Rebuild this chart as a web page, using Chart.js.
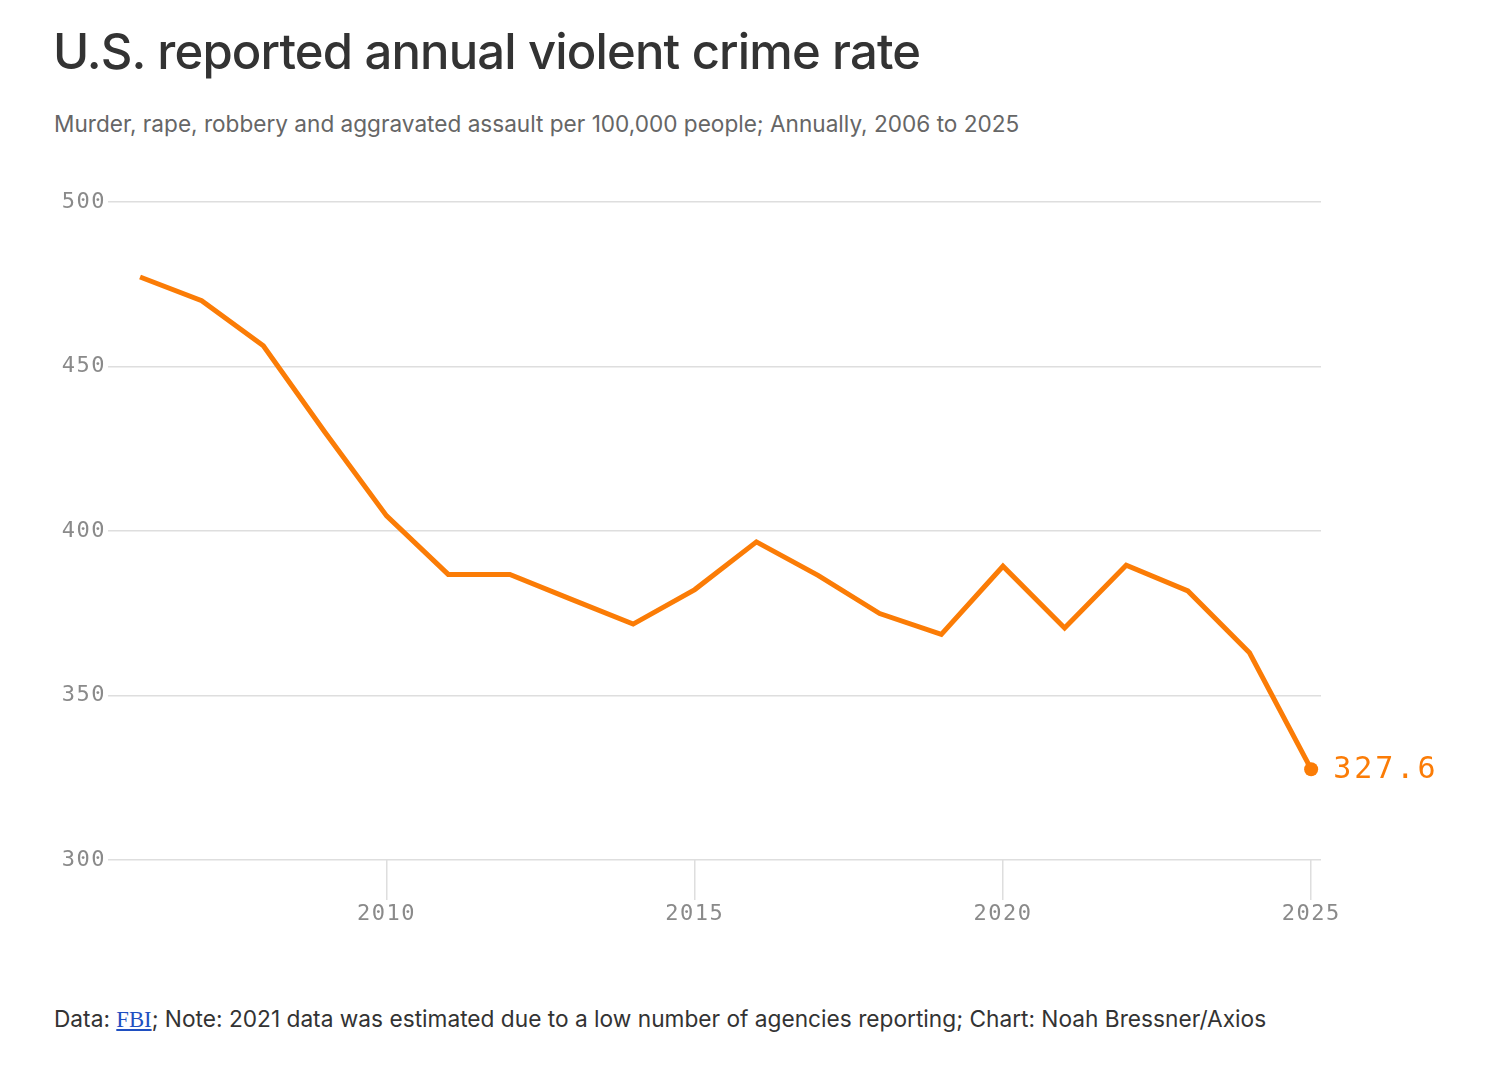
<!DOCTYPE html>
<html>
<head>
<meta charset="utf-8">
<script src="https://cdn.jsdelivr.net/npm/chart.js@4.4.1/dist/chart.umd.min.js"></script>
<style>
    html, body { margin: 0; padding: 0; background: #fff; }
    body { width: 1504px; height: 1066px; position: relative; overflow: hidden; font-family: Inter, "Noto Sans", sans-serif; }
    #title { position: absolute; left: 53px; top: 22px; font-size: 49px; font-weight: 500; color: #333; letter-spacing: -0.85px; white-space: nowrap; }
    #subtitle { position: absolute; left: 54px; top: 110px; font-size: 22.6px; color: #666; letter-spacing: 0; white-space: nowrap; }
    #chartBox { position: absolute; left: 0; top: 180px; width: 1504px; height: 780px; }
    #footer { position: absolute; left: 54px; top: 1005px; font-size: 22.7px; color: #333; letter-spacing: 0; white-space: nowrap; }
    #footer a { font-family: "Liberation Serif", "DejaVu Serif", serif; color: #1f4fc1; }
</style>
</head>
<body>
<div id="title">U.S. reported annual violent crime rate</div>
<div id="subtitle">Murder, rape, robbery and aggravated assault per 100,000 people; Annually, 2006 to 2025</div>
<div id="chartBox"><canvas id="crimeChart"></canvas></div>
<div id="footer">Data: <a href="#">FBI</a>; Note: 2021 data was estimated due to a low number of agencies reporting; Chart: Noah Bressner/Axios</div>

<script>
// datos
const years = [2006, 2007, 2008, 2009, 2010, 2011, 2012, 2013, 2014, 2015,
               2016, 2017, 2018, 2019, 2020, 2021, 2022, 2023, 2024, 2025];
const rates = [477.2, 470.0, 456.3, 430.0, 404.6, 386.8, 386.8, 379.2, 371.7, 382.2,
               396.7, 386.5, 374.9, 368.6, 389.3, 370.5, 389.6, 381.8, 363.0, 327.6];
const yTicks = [300, 350, 400, 450, 500];
const xTicks = [2010, 2015, 2020, 2025];

const orange = '#fb7c06';
const gridColor = '#dedede';
const tickFont = { family: '"DejaVu Sans Mono", "Liberation Mono", monospace', size: 22 };

// etiqueta del ultimo valor
const lastLabel = {
    id: 'lastLabel',
    afterDatasetsDraw(chart) {
        const meta = chart.getDatasetMeta(0);
        const pt = meta.data[meta.data.length - 1];
        const ctx = chart.ctx;
        ctx.save();
        ctx.letterSpacing = '3px';
        ctx.font = '30px "DejaVu Sans Mono", monospace';
        ctx.fillStyle = orange;
        ctx.textAlign = 'left';
        ctx.textBaseline = 'middle';
        ctx.fillText(rates[rates.length - 1].toFixed(1), pt.x + 22, pt.y + 1);
        ctx.restore();
    }
};

// espaciado de letras para las etiquetas de los ejes
const spacing = {
    id: 'spacing',
    beforeDraw(chart) { chart.ctx.letterSpacing = '1.5px'; },
    afterDraw(chart) { chart.ctx.letterSpacing = '0px'; }
};

const points = years.map((y, i) => ({ x: y, y: rates[i] }));

new Chart(document.getElementById('crimeChart').getContext('2d'), {
    type: 'line',
    data: {
        datasets: [{
            data: points,
            borderColor: orange,
            backgroundColor: orange,
            borderWidth: 5,
            fill: false,
            tension: 0,
            pointRadius: ctx => ctx.dataIndex === rates.length - 1 ? 7 : 0,
            pointBorderWidth: 0,
            clip: false
        }]
    },
    options: {
        responsive: true,
        maintainAspectRatio: false,
        animation: false,
        layout: { padding: { left: 0, right: 183, top: 22, bottom: 0 } },
        plugins: { legend: { display: false }, tooltip: { enabled: false } },
        scales: {
            x: {
                type: 'linear',
                min: 2005.48,
                max: 2025.16,
                afterBuildTicks: scale => { scale.ticks = xTicks.map(v => ({ value: v })); },
                afterFit: scale => { scale.height = 100; },
                grid: { drawOnChartArea: false, color: gridColor, tickLength: 40, lineWidth: 1.5 },
                border: { display: false },
                ticks: { font: tickFont, color: '#8a8a8a', padding: 1, maxRotation: 0, callback: v => String(v) }
            },
            y: {
                min: 300,
                max: 500,
                afterBuildTicks: scale => { scale.ticks = yTicks.map(v => ({ value: v })); },
                afterFit: scale => { scale.width = 108; },
                grid: { color: gridColor, drawTicks: false, lineWidth: 1.5 },
                border: { display: false },
                ticks: { font: tickFont, color: '#8a8a8a', padding: 2 }
            }
        }
    },
    plugins: [spacing, lastLabel]
});
</script>
</body>
</html>
